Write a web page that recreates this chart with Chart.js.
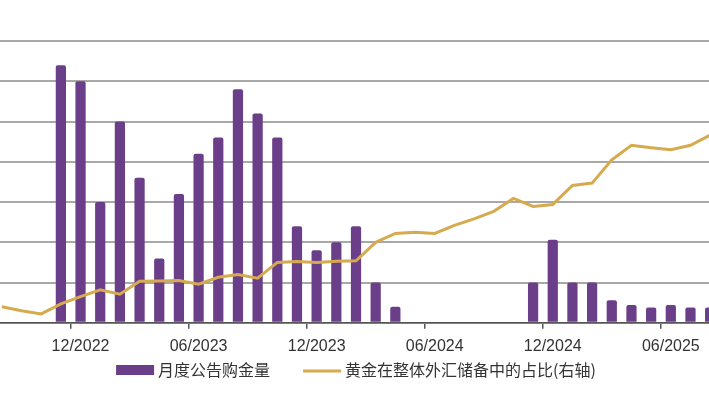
<!DOCTYPE html>
<html>
<head>
<meta charset="utf-8">
<script src="https://cdn.jsdelivr.net/npm/chart.js@4.4.1/dist/chart.umd.min.js"></script>
<style>
  html, body { margin: 0; padding: 0; background: #fff; overflow: hidden; width: 709px; height: 399px; }
  #wrap { position: absolute; left: -8px; top: 0; width: 728px; height: 399px; }
</style>
</head>
<body>
<div id="wrap"><canvas id="goldChart" width="728" height="399"></canvas></div>
<script>
// months shown on the x axis (chart is cropped on both sides)
const months = [
    '08/2022', '09/2022', '10/2022', '11/2022', '12/2022',
    '01/2023', '02/2023', '03/2023', '04/2023', '05/2023', '06/2023',
    '07/2023', '08/2023', '09/2023', '10/2023', '11/2023', '12/2023',
    '01/2024', '02/2024', '03/2024', '04/2024', '05/2024', '06/2024',
    '07/2024', '08/2024', '09/2024', '10/2024', '11/2024', '12/2024',
    '01/2025', '02/2025', '03/2025', '04/2025', '05/2025', '06/2025',
    '07/2025', '08/2025'
];

// monthly announced purchases (tonnes)
const purchases = [
    null, null, null, 32, 30,
    15, 25, 18, 8, 16, 21,
    23, 29, 26, 23, 12, 9,
    10, 12, 5, 2, null, null,
    null, null, null, null, 5, 10.3,
    5, 5, 2.8, 2.2, 1.9, 2.2,
    1.9, 1.9
];

// gold share of total reserves (%, right axis)
const goldShare = [
    3.40, 3.30, 3.22, 3.47, 3.65,
    3.82, 3.71, 4.03, 4.04, 4.05, 3.96,
    4.13, 4.20, 4.11, 4.50, 4.52, 4.50,
    4.53, 4.54, 5.00, 5.22, 5.25, 5.22,
    5.42, 5.58, 5.77, 6.09, 5.89, 5.94,
    6.41, 6.47, 7.05, 7.41, 7.35, 7.30,
    7.41, 7.66
];

const seriesNames = ['月度公告购金量', '黄金在整体外汇储备中的占比(右轴)'];

const PURPLE = '#6b3e8a';
const GOLD   = '#d6aa4e';

const isLabelMonth = m => !!m && (m.startsWith('12/') || m.startsWith('06/'));

// legend drawn by hand so the spacing matches the original
const bottomLegend = {
    id: 'bottomLegend',
    afterDraw(chart) {
        const { ctx, chartArea } = chart;
        ctx.save();
        ctx.font = '16px "Noto Sans CJK SC"';
        ctx.textBaseline = 'middle';
        ctx.fillStyle = '#333';
        const w1 = ctx.measureText(seriesNames[0]).width;
        const w2 = ctx.measureText(seriesNames[1]).width;
        const total = 38 + 4 + w1 + 33 + 38 + 4 + w2;
        let x = (chartArea.left + chartArea.right) / 2 - total / 2;
        const y = 370;

        ctx.fillStyle = PURPLE;
        ctx.fillRect(x, y - 5, 38, 10);
        x += 42;
        ctx.fillStyle = '#333';
        ctx.fillText(seriesNames[0], x, y);
        x += w1 + 33;

        ctx.strokeStyle = GOLD;
        ctx.lineWidth = 3;
        ctx.beginPath();
        ctx.moveTo(x, y + 1);
        ctx.lineTo(x + 38, y + 1);
        ctx.stroke();
        x += 42;
        ctx.fillText(seriesNames[1], x, y);
        ctx.restore();
    }
};

new Chart(document.getElementById('goldChart').getContext('2d'), {
    type: 'bar',
    data: {
        labels: months,
        datasets: [
            {
                type: 'line',
                label: seriesNames[1],
                data: goldShare,
                borderColor: GOLD,
                backgroundColor: GOLD,
                borderWidth: 3,
                pointRadius: 0,
                tension: 0,
                yAxisID: 'y1',
                order: 0,
            },
            {
                label: seriesNames[0],
                data: purchases,
                backgroundColor: PURPLE,
                borderRadius: 2,
                borderSkipped: 'bottom',
                barPercentage: 0.52,
                categoryPercentage: 1,
                yAxisID: 'y',
                order: 1,
            },
        ],
    },
    options: {
        responsive: false,
        animation: false,
        devicePixelRatio: 1,
        layout: {
            padding: { top: 41, bottom: 35, left: 0, right: 0 },
        },
        plugins: {
            legend: { display: false },
            tooltip: { enabled: false },
        },
        scales: {
            x: {
                grid: {
                    offset: true,
                    drawOnChartArea: false,
                    drawTicks: true,
                    tickLength: 6,
                    lineWidth: 1.5,
                    tickColor: ctx => isLabelMonth(months[ctx.index]) ? '#555' : 'rgba(0,0,0,0)',
                },
                border: { color: '#555', width: 1.5 },
                ticks: {
                    autoSkip: false,
                    maxRotation: 0,
                    padding: 8,
                    color: '#333',
                    font: { family: '"Liberation Sans", Arial, sans-serif', size: 16 },
                    callback: (value, index) => isLabelMonth(months[index]) ? months[index] : '',
                },
            },
            y: {
                position: 'left',
                min: 0,
                max: 35,
                ticks: { display: false, stepSize: 5 },
                grid: { color: '#a8a8a8', lineWidth: 2, drawTicks: false },
                border: { display: false },
            },
            y1: {
                position: 'right',
                display: false,
                min: 3,
                max: 10,
            },
        },
    },
    plugins: [bottomLegend],
});
</script>
</body>
</html>
